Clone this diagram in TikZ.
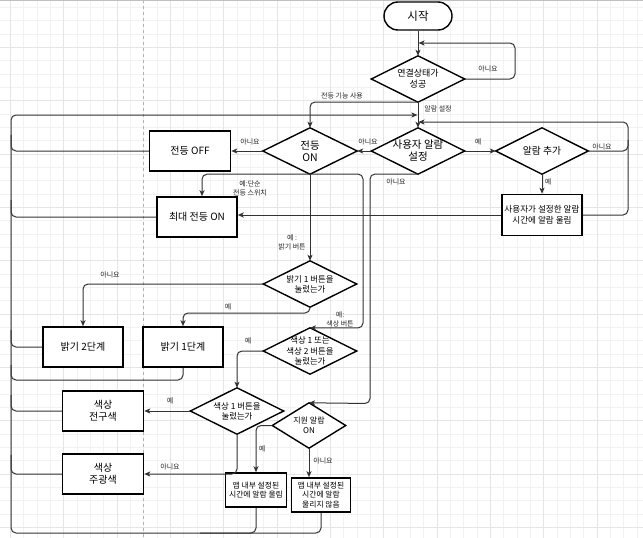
\documentclass[tikz,border=0pt]{standalone}
\usepackage{fontspec}
\setmainfont{Noto Sans CJK KR}
\usetikzlibrary{arrows.meta}
\pgfdeclarelayer{gridlayer}
\pgfdeclarelayer{under}
\pgfsetlayers{gridlayer,under,main}
\begin{document}
\begin{tikzpicture}[x=1pt,y=-1pt,
  box/.style={draw=black,line width=1.5pt,fill=white,align=center,inner sep=0pt,minimum width=81pt,minimum height=40pt,font=\fontsize{10}{12.5}\selectfont},
  sbox/.style={draw=black,line width=1.5pt,fill=white,align=center,inner sep=0pt,font=\fontsize{7.8}{9.6}\selectfont},
  dtext/.style={align=center,inner sep=0pt},
  conn/.style={draw=black!80,line width=1pt,rounded corners=5pt},
  arr/.style={-{Stealth[length=6pt,width=5pt,inset=1.5pt]}},
  lbl/.style={font=\fontsize{7}{8.8}\selectfont,text=black!85,align=center,inner sep=0pt},
  dline/.style={draw=black,line width=1.4pt,line join=miter},
  minorg/.style={draw=black!5,line width=0.6pt},
  majorg/.style={draw=black!10,line width=0.6pt}
]
\useasboundingbox (0,0) rectangle (643,538);
\begin{pgfonlayer}{gridlayer}
  \fill[white] (0,0) rectangle (643,538);
  \begin{scope}
    \clip (0,0) rectangle (643,538);
    \foreach \k in {0,...,48} {\draw[minorg] ({10.3+13.333*\k},0) -- ++(0,538);}
    \foreach \k in {0,...,40} {\draw[minorg] (0,{7.3+13.333*\k}) -- ++(643,0);}
    \foreach \k in {0,...,12} {\draw[majorg] ({10.3+53.333*\k},0) -- ++(0,538);}
    \foreach \k in {0,...,10} {\draw[majorg] (0,{-6+53.333*\k}) -- ++(643,0);}
    \draw[black!30,dashed,line width=0.6pt] (143.6,0) -- (143.6,538);
    \draw[black!25,line width=1pt] (0,0.5) -- (643,0.5);
  \end{scope}
\end{pgfonlayer}

% start
\node[draw=black,line width=1.4pt,fill=white,rounded corners=14pt,minimum width=68pt,minimum height=28pt,inner sep=0pt,font=\fontsize{11.5}{13}\selectfont] (start) at (418,16) {시작};

% decisions (text nodes; diamond outlines drawn below)
\node[dtext,minimum width=93pt,minimum height=46pt,font=\fontsize{9}{11}\selectfont] (d1) at (418,79) {연결상태가\\성공};
\node[dtext,minimum width=94pt,minimum height=46pt,font=\fontsize{10.5}{12}\selectfont] (d2) at (310,151) {전등\\ON};
\node[dtext,minimum width=93pt,minimum height=46pt,font=\fontsize{10.5}{12}\selectfont] (d3) at (418,151) {사용자 알람\\설정};
\node[dtext,minimum width=92pt,minimum height=46pt,font=\fontsize{9.8}{12}\selectfont] (d4) at (542,151) {알람 추가};
\node[dtext,minimum width=93pt,minimum height=46pt,font=\fontsize{8.4}{10.3}\selectfont] (d5) at (310,284) {밝기 1 버튼을\\눌렀는가};
\node[dtext,minimum width=93pt,minimum height=46pt,font=\fontsize{8.4}{10.3}\selectfont] (d6) at (310,351) {색상 1 또는\\색상 2 버튼을\\눌렀는가};
\node[dtext,minimum width=93pt,minimum height=46pt,font=\fontsize{8.4}{10.3}\selectfont] (d7) at (237,411) {색상 1 버튼을\\눌렀는가};
\node[dtext,minimum width=73pt,minimum height=45pt,font=\fontsize{8}{10}\selectfont] (d8) at (309,425.5) {지원 알람\\ON};

\begin{pgfonlayer}{under}
  \foreach \n in {d1,d2,d3,d4,d5,d6,d7,d8}
    {\fill[white] (\n.north) -- (\n.east) -- (\n.south) -- (\n.west) -- cycle;}
\end{pgfonlayer}
\foreach \n in {d1,d2,d3,d4,d5,d6,d7,d8}
  {\draw[dline] (\n.north) -- (\n.east) -- (\n.south) -- (\n.west) -- cycle;}

% boxes
\node[box] (b1) at (190,151) {전등 OFF};
\node[box,minimum width=80pt] (b2) at (197,217) {최대 전등 ON};
\node[box,minimum width=80pt,minimum height=41pt,font=\fontsize{8.6}{10.6}\selectfont] (b3) at (542,215) {사용자가 설정한 알람\\시간에 알람 울림};
\node[box,minimum width=80pt] (b4) at (83,347) {밝기 2단계};
\node[box,minimum width=80pt] (b5) at (183,347) {밝기 1단계};
\node[box] (b6) at (103,411) {색상\\전구색};
\node[box] (b7) at (103,474) {색상\\주광색};
\node[sbox,minimum width=61pt,minimum height=34pt] (b8) at (256,490) {앱 내부 설정된\\시간에 알람 울림};
\node[sbox,minimum width=59pt,minimum height=34pt] (b9) at (321,495) {앱 내부 설정된\\시간에 알람\\울리지 않음};

% junction points on the vertical line above d3
\coordinate (j1) at (418.5,43);
\coordinate (j2) at (417.5,115);
\coordinate (j3) at (418.5,122);

% connectors
\draw[conn,arr] (start.south) -- (d1.north);
\draw[conn,arr] (d1.east) -- (515,79) -- (515,43) -- (j1);
\draw[conn,arr] (d1.south) -- (310,102) -- (d2.north);
\draw[conn,arr] (d1.south) -- (d3.north);

% return bus on the left
\draw[conn,arr] (b9.south) |- (11,533) -- (11,115) -- (j2);
\draw[conn] (b8.south) |- (200,533);
\draw[conn] (b1.west) -| (11,135);
\draw[conn] (b2.west) -| (11,200);
\draw[conn] (b4.west) -| (11,330);
\draw[conn] (b5.south) |- (11,380) -- (11,365);
\draw[conn] (b6.west) -| (11,395);
\draw[conn] (b7.west) -| (11,455);

% from d2
\draw[conn,arr] (d2.west) -- (b1.east);
\draw[conn,arr] (d2.south) -| ([xshift=5pt]b2.north);
\draw[conn,arr] (d2.south) -- (d5.north);
\draw[conn,arr] (d2.south) -- (363,174) -- (363,328) -- (d6.north);

% from d3
\draw[conn,arr] (d3.west) -- (d2.east);
\draw[conn,arr] (d3.east) -- (d4.west);
\draw[conn,arr] (d3.south) -- (370,174) -- (370,403.5) -- (d8.north);

% from d4
\draw[conn,arr] (d4.east) -- (628,151) -- (628,122) -- (j3);
\draw[conn,arr] (d4.south) -- (b3.north);
\draw[conn] (b3.east) -| (628,140);
\draw[conn,arr] (b3.west) -- (b3.west -| b2.east);

% from d5
\draw[conn,arr] (d5.west) -| (b4.north);
\draw[conn,arr] (d5.south) -- (310,313) -| (b5.north);

% from d6, d7
\draw[conn,arr] (d6.west) -| (d7.north);
\draw[conn,arr] (d7.west) -- (b6.east);
\draw[conn,arr] (d7.south) |- (b7.east);

% from d8
\draw[conn,arr] (d8.west) -| (b8.north);
\draw[conn,arr] (d8.south) -- (d8.south |- b9.north);

% labels
\node[lbl] (l1) at (488,69) {아니요};
\node[lbl] (l2) at (342,96) {전등 기능 사용};
\node[lbl] (l3) at (438,109) {알람 설정};
\node[lbl] (l4) at (250,142) {아니요};
\node[lbl] (l5) at (368,142) {아니요};
\node[lbl] (l6) at (478,142) {예};
\node[lbl] (l7) at (602,147) {아니요};
\node[lbl] (l8) at (250,188) {예:단순\\전등 스위치};
\node[lbl] (l9) at (396,182) {아니요};
\node[lbl] (l10) at (548,182) {예};
\node[lbl] (l11) at (292,242) {예 :\\밝기 버튼};
\node[lbl] (l12) at (110,275) {아니요};
\node[lbl] (l13) at (228,307) {예};
\node[lbl] (l14) at (340,319) {예:\\색상 버튼};
\node[lbl] (l15) at (248,341) {예};
\node[lbl] (l16) at (170,401) {예};
\node[lbl] (l17) at (170,467) {아니요};
\node[lbl] (l18) at (262,449) {예};
\node[lbl] (l19) at (323,461) {아니요};
\end{tikzpicture}
\end{document}
